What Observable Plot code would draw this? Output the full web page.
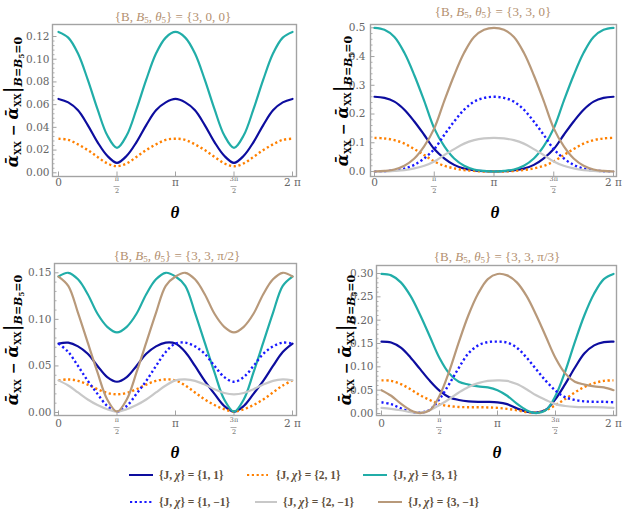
<!DOCTYPE html>
<html><head><meta charset="utf-8">
<script src="https://cdn.jsdelivr.net/npm/d3@7"></script>
<script src="https://cdn.jsdelivr.net/npm/@observablehq/plot@0.6"></script>
<style>
html,body{margin:0;padding:0;background:#fff;}
#root{position:relative;width:623px;height:510px;overflow:hidden;background:#fff;}
#root svg{position:absolute;overflow:visible;}
</style></head><body><div id="root"></div>
<script>
// ---------- data ----------
// sample angles, in units of π/12 (0 … 2π)
const THETA_STEPS = [0,1,2,3,4,5,6,7,8,9,10,11,12,13,14,15,16,17,18,19,20,21,22,23,24];

// panel 1 : {B, B5, θ5} = {3, 0, 0}
const p1_j1c1 = [0.065,0.062,0.055,0.042,0.027,0.015,0.0088,0.015,0.027,0.042,0.055,0.062,0.065,0.062,0.055,0.042,0.027,0.015,0.0088,0.015,0.027,0.042,0.055,0.062,0.065];
const p1_j2c1 = [0.030,0.029,0.025,0.020,0.014,0.0083,0.0058,0.0083,0.014,0.020,0.025,0.029,0.030,0.029,0.025,0.020,0.014,0.0083,0.0058,0.0083,0.014,0.020,0.025,0.029,0.030];
const p1_j3c1 = [0.124,0.119,0.105,0.082,0.056,0.033,0.022,0.033,0.056,0.082,0.105,0.119,0.124,0.119,0.105,0.082,0.056,0.033,0.022,0.033,0.056,0.082,0.105,0.119,0.124];

// panel 2 : {3, 3, 0}
const p2_j1c1 = [0.260,0.256,0.243,0.215,0.174,0.127,0.078,0.046,0.023,0.010,0.004,0.001,0.000,0.001,0.004,0.010,0.023,0.046,0.078,0.127,0.174,0.215,0.243,0.256,0.260];
const p2_j2c1 = [0.117,0.115,0.109,0.097,0.078,0.057,0.035,0.020,0.011,0.005,0.002,0.000,0.000,0.000,0.002,0.005,0.011,0.020,0.035,0.057,0.078,0.097,0.109,0.115,0.117];
const p2_j3c1 = [0.500,0.493,0.468,0.413,0.335,0.245,0.150,0.088,0.045,0.020,0.007,0.002,0.000,0.002,0.007,0.020,0.045,0.088,0.150,0.245,0.335,0.413,0.468,0.493,0.500];
const p2_j1cm = [0.000,0.001,0.004,0.010,0.023,0.046,0.078,0.127,0.174,0.215,0.243,0.256,0.260,0.256,0.243,0.215,0.174,0.127,0.078,0.046,0.023,0.010,0.004,0.001,0.000];
const p2_j2cm = [0.000,0.000,0.002,0.005,0.011,0.020,0.035,0.057,0.078,0.097,0.109,0.115,0.117,0.115,0.109,0.097,0.078,0.057,0.035,0.020,0.011,0.005,0.002,0.000,0.000];
const p2_j3cm = [0.000,0.002,0.007,0.020,0.045,0.088,0.150,0.245,0.335,0.413,0.468,0.493,0.500,0.493,0.468,0.413,0.335,0.245,0.150,0.088,0.045,0.020,0.007,0.002,0.000];

// panel 3 : {3, 3, π/2}
const p3_j1c1 = [0.074,0.075,0.071,0.063,0.050,0.038,0.033,0.038,0.050,0.063,0.071,0.075,0.074,0.065,0.050,0.034,0.020,0.007,0.001,0.007,0.020,0.034,0.050,0.065,0.074];
const p3_j2c1 = [0.0345,0.0355,0.034,0.030,0.025,0.021,0.0195,0.021,0.025,0.030,0.034,0.0355,0.0345,0.029,0.0215,0.014,0.008,0.0035,0.001,0.0035,0.008,0.014,0.0215,0.029,0.0345];
const p3_j3c1 = [0.146,0.150,0.143,0.127,0.106,0.092,0.086,0.092,0.106,0.127,0.143,0.150,0.146,0.136,0.107,0.075,0.043,0.014,0.001,0.014,0.043,0.075,0.107,0.136,0.146];
const p3_j1cm = [0.074,0.065,0.050,0.034,0.020,0.007,0.001,0.007,0.020,0.034,0.050,0.065,0.074,0.075,0.071,0.063,0.050,0.038,0.033,0.038,0.050,0.063,0.071,0.075,0.074];
const p3_j2cm = [0.0345,0.029,0.0215,0.014,0.008,0.0035,0.001,0.0035,0.008,0.014,0.0215,0.029,0.0345,0.0355,0.034,0.030,0.025,0.021,0.0195,0.021,0.025,0.030,0.034,0.0355,0.0345];
const p3_j3cm = [0.146,0.136,0.107,0.075,0.043,0.014,0.001,0.014,0.043,0.075,0.107,0.136,0.146,0.150,0.143,0.127,0.106,0.092,0.086,0.092,0.106,0.127,0.143,0.150,0.146];

// panel 4 : {3, 3, π/3}
const p4_j1c1 = [0.154,0.152,0.141,0.120,0.095,0.070,0.049,0.035,0.029,0.026,0.025,0.025,0.024,0.020,0.011,0.004,0.002,0.008,0.031,0.063,0.098,0.129,0.146,0.153,0.154];
const p4_j2c1 = [0.071,0.070,0.063,0.052,0.039,0.029,0.020,0.016,0.014,0.0135,0.0135,0.013,0.012,0.010,0.007,0.003,0.002,0.007,0.018,0.031,0.045,0.057,0.065,0.070,0.071];
const p4_j3c1 = [0.299,0.296,0.281,0.252,0.211,0.165,0.119,0.086,0.068,0.062,0.058,0.056,0.050,0.038,0.021,0.007,0.001,0.007,0.038,0.090,0.153,0.211,0.257,0.288,0.299];
const p4_j1cm = [0.024,0.020,0.011,0.004,0.002,0.008,0.031,0.063,0.098,0.129,0.146,0.153,0.154,0.152,0.141,0.120,0.095,0.070,0.049,0.035,0.029,0.026,0.025,0.025,0.024];
const p4_j2cm = [0.012,0.010,0.007,0.003,0.002,0.007,0.018,0.031,0.045,0.057,0.065,0.070,0.071,0.070,0.063,0.052,0.039,0.029,0.020,0.016,0.014,0.0135,0.0135,0.013,0.012];
const p4_j3cm = [0.050,0.038,0.021,0.007,0.001,0.007,0.038,0.090,0.153,0.211,0.257,0.288,0.299,0.296,0.281,0.252,0.211,0.165,0.119,0.086,0.068,0.062,0.058,0.056,0.050];

// series keys and legend values {J, χ}
const SERIES_KEYS = ["j1c1","j2c1","j3c1","j1cm","j2cm","j3cm"];
const SERIES_J    = ["1","2","3","1","2","3"];
const SERIES_CHI  = ["1","1","1","−1","−1","−1"];

// panel parameter labels
const PANEL_PARAMS = ["3, 0, 0","3, 3, 0","3, 3, π/2","3, 3, π/3"];

// axis ticks
const X_TICKS = [0, 0.5, 1, 1.5, 2];            // in units of π
const X_TICK_LABELS = ["0", "π/2", "π", "3π/2", "2 π"];
const Y_TICKS_1 = [0,0.02,0.04,0.06,0.08,0.10,0.12];
const Y_TICKS_2 = [0,0.1,0.2,0.3,0.4,0.5];
const Y_TICKS_3 = [0,0.05,0.10,0.15];
const Y_TICKS_4 = [0,0.05,0.10,0.15,0.20,0.25,0.30];

// ---------- styles ----------
const STYLE = {
  j1c1:{color:"#0d0d9e", width:2.2, dash:null},
  j2c1:{color:"#ff8000", width:2.4, dash:"2.2,2.6"},
  j3c1:{color:"#21ada8", width:2.2, dash:null},
  j1cm:{color:"#1a1aff", width:2.4, dash:"2.2,2.6"},
  j2cm:{color:"#c8c8c8", width:2.2, dash:null},
  j3cm:{color:"#b8997a", width:2.2, dash:null}
};
const SERIF = "Liberation Serif";
const LABFONT = "DejaVu Serif";
const TICKFONT = "DejaVu Serif";
const TITLE_COLOR = "#b3906f";

const root = document.getElementById("root");

function yLabel(svg, cx, cy){
  const t = d3.select(svg).append("text")
    .attr("transform", `translate(${cx},${cy}) rotate(-90)`)
    .attr("text-anchor","middle").attr("font-family",LABFONT)
    .attr("font-weight","bold").attr("fill","#000").attr("font-size",16);
  const parts = [
    ["ᾱ",{"font-style":"italic"}],
    ["XX",{"font-size":9,dy:3}],
    [" − ",{dy:-3,"font-size":14}],
    ["ᾱ",{"font-style":"italic"}],
    ["XX",{"font-size":9,dy:3}],
    ["|",{"font-size":20,dy:-3,"font-weight":"normal"}],
    ["B",{"font-size":11,"font-style":"italic",dy:4}],
    ["=",{"font-size":11}],
    ["B",{"font-size":11,"font-style":"italic"}],
    ["5",{"font-size":7,dy:2}],
    ["=0",{"font-size":11,dy:-2}]
  ];
  parts.forEach(([s,a])=>{
    const sp = t.append("tspan").text(s);
    Object.entries(a).forEach(([k,v])=>sp.attr(k,v));
  });
}

function title(svg, cx, by, params){
  const t = d3.select(svg).append("text").attr("x",cx).attr("y",by)
    .attr("text-anchor","middle").attr("font-family",SERIF)
    .attr("font-size",13).attr("fill",TITLE_COLOR);
  t.append("tspan").text("{B, ");
  t.append("tspan").text("B").attr("font-style","italic");
  t.append("tspan").text("5").attr("font-size",9).attr("dy",2);
  t.append("tspan").text(", ").attr("dy",-2);
  t.append("tspan").text("θ").attr("font-style","italic");
  t.append("tspan").text("5").attr("font-size",9).attr("dy",2);
  t.append("tspan").text("} = {" + params + "}").attr("dy",-2);
}

function thetaLabel(svg, cx, by){
  d3.select(svg).append("text").attr("x",cx).attr("y",by).attr("text-anchor","middle")
    .attr("font-family",SERIF).attr("font-weight","bold").attr("font-style","italic")
    .attr("font-size",17).attr("fill","#000").text("θ");
}

function panel(cfg){
  const fw = cfg.width - cfg.ml - cfg.mr, fh = cfg.height - cfg.mt - cfg.mb;
  const marks = [];
  const minor = [];
  for (let i = 0; i < cfg.yTicks.length - 1; i++) {
    const a = cfg.yTicks[i], b = cfg.yTicks[i+1];
    for (let j = 1; j < 5; j++) minor.push(a + (b - a) * j / 5);
  }
  marks.push(Plot.ruleY(minor, {stroke:"#999", strokeWidth:0.8, insetRight: fw - 2.5}));
  marks.push(Plot.ruleY(cfg.yTicks, {stroke:"#999", strokeWidth:0.9, insetRight: fw - 4.5}));
  const xt = X_TICKS.map((v,i)=>({v: v*Math.PI, lab: X_TICK_LABELS[i]}));
  marks.push(Plot.ruleX(xt, {x:"v", stroke:"#999", strokeWidth:0.9, insetTop: fh - 4.5}));
  marks.push(Plot.axisY({ticks: cfg.yTicks, tickSize:0, tickPadding: cfg.pad, tickFormat: d3.format(cfg.fmt),
    label:null, fontSize:10.5, fontFamily:TICKFONT, fill:"#666"}));
  // x tick labels (fractions stacked)
  const plain = xt.filter(d=>!d.lab.includes("/"));
  const frac = xt.filter(d=>d.lab.includes("/")).map(d=>({v:d.v, num:d.lab.split("/")[0], den:d.lab.split("/")[1]}));
  marks.push(Plot.text(plain, {x:"v", text:"lab", frameAnchor:"bottom", dy: cfg.tdy, fontSize:10.5, fontFamily:TICKFONT, fill:"#666"}));
  marks.push(Plot.text(frac, {x:"v", text:"num", frameAnchor:"bottom", dy: cfg.tdy-5, fontSize:6.5, fontFamily:TICKFONT, fill:"#666"}));
  marks.push(Plot.text(frac, {x:"v", text:"den", frameAnchor:"bottom", dy: cfg.tdy+7, fontSize:6.5, fontFamily:TICKFONT, fill:"#666"}));
  // series
  cfg.series.forEach(([key, values])=>{
    const rows = values.map((v,i)=>({theta: THETA_STEPS[i]*Math.PI/12, value:v}));
    const st = STYLE[key];
    marks.push(Plot.line(rows, {x:"theta", y:"value", stroke:st.color, strokeWidth:st.width,
      strokeDasharray: st.dash, curve:"catmull-rom", strokeLinecap: st.dash ? "butt" : "round"}));
  });
  marks.push(Plot.frame({stroke:"#a3a3a3", strokeWidth:1.4}));
  const svg = Plot.plot({
    width: cfg.width, height: cfg.height,
    marginLeft: cfg.ml, marginRight: cfg.mr, marginTop: cfg.mt, marginBottom: cfg.mb,
    x:{domain:[0, 2*Math.PI], range: cfg.xRange, axis:null},
    y:{domain:[0, cfg.yTicks[cfg.yTicks.length-1]], range: cfg.yRange},
    style:{background:"transparent", fontFamily:TICKFONT, fontSize:"10.5px", color:"#666", overflow:"visible"},
    marks
  });
  svg.style.left = cfg.left + "px";
  svg.style.top = cfg.top + "px";
  // fraction bars, placed with the plot's own x scale
  const xs = svg.scale("x");
  const by = cfg.height - cfg.mb + cfg.tdy + 1.5;
  frac.forEach(d=>{
    const px = xs.apply(d.v);
    d3.select(svg).append("line").attr("x1",px-3).attr("x2",px+3).attr("y1",by).attr("y2",by)
      .attr("stroke","#777").attr("stroke-width",0.6);
  });
  title(svg, cfg.titleX, cfg.titleY, cfg.params);
  thetaLabel(svg, cfg.thetaX, cfg.thetaY);
  yLabel(svg, cfg.ylx, cfg.yly);
  root.appendChild(svg);
}

panel({left:0, top:0, width:311, height:225, ml:52, mr:15, mt:24, mb:49,
  xRange:[58,292], yRange:[172.3, 36], yTicks:Y_TICKS_1, fmt:".2f", pad:3, tdy:9,
  params:PANEL_PARAMS[0], titleX:173, titleY:21, thetaX:175, thetaY:218, ylx:18, yly:102,
  series:[["j1c1",p1_j1c1],["j2c1",p1_j2c1],["j3c1",p1_j3c1]]});

panel({left:311, top:0, width:312, height:225, ml:59, mr:7, mt:24, mb:49,
  xRange:[63,302], yRange:[171, 27.3], yTicks:Y_TICKS_2, fmt:".1f", pad:5, tdy:9,
  params:PANEL_PARAMS[1], titleX:182, titleY:16, thetaX:184, thetaY:218, ylx:37, yly:101,
  series:[["j1c1",p2_j1c1],["j2c1",p2_j2c1],["j3c1",p2_j3c1],["j1cm",p2_j1cm],["j2cm",p2_j2cm],["j3cm",p2_j3cm]]});

panel({left:0, top:225, width:311, height:240, ml:54, mr:15, mt:38, mb:50,
  xRange:[58,292], yRange:[187, 47.3], yTicks:Y_TICKS_3, fmt:".2f", pad:3, tdy:11,
  params:PANEL_PARAMS[2], titleX:177, titleY:34.5, thetaX:175, thetaY:233, ylx:18, yly:115,
  series:[["j1c1",p3_j1c1],["j2c1",p3_j2c1],["j3c1",p3_j3c1],["j1cm",p3_j1cm],["j2cm",p3_j2cm],["j3cm",p3_j3cm]]});

panel({left:311, top:225, width:312, height:240, ml:65, mr:7, mt:40, mb:50,
  xRange:[70,302], yRange:[188, 48], yTicks:Y_TICKS_4, fmt:".2f", pad:3, tdy:11,
  params:PANEL_PARAMS[3], titleX:186, titleY:35.5, thetaX:186, thetaY:233, ylx:40, yly:115,
  series:[["j1c1",p4_j1c1],["j2c1",p4_j2c1],["j3c1",p4_j3c1],["j1cm",p4_j1cm],["j2cm",p4_j2cm],["j3cm",p4_j3cm]]});

// ---------- legend ----------
const LEG_POS = [[129,153,159,13.5],[247,268,276,13.5],[363,387,393,13.5],[130,153,159,40.5],[255,277,283,40.5],[378,402,408,40.5]];
const leg = d3.select(root).append("svg").attr("width",623).attr("height",45)
  .style("left","0px").style("top","465px");
SERIES_KEYS.forEach((key,i)=>{
  const [x1,x2,tx,by] = LEG_POS[i];
  const st = STYLE[key];
  leg.append("line").attr("x1",x1).attr("x2",x2).attr("y1",by-3.5).attr("y2",by-3.5)
    .attr("stroke",st.color).attr("stroke-width",st.dash?2.2:2).attr("stroke-dasharray",st.dash);
  const t = leg.append("text").attr("x",tx).attr("y",by).attr("font-family",SERIF)
    .attr("font-size",11.5).attr("font-weight","bold").attr("fill","#5e5040");
  t.append("tspan").text("{J, ");
  t.append("tspan").text("χ").attr("font-style","italic");
  t.append("tspan").text("} = {" + SERIES_J[i] + ", " + SERIES_CHI[i] + "}");
});
</script></body></html>
